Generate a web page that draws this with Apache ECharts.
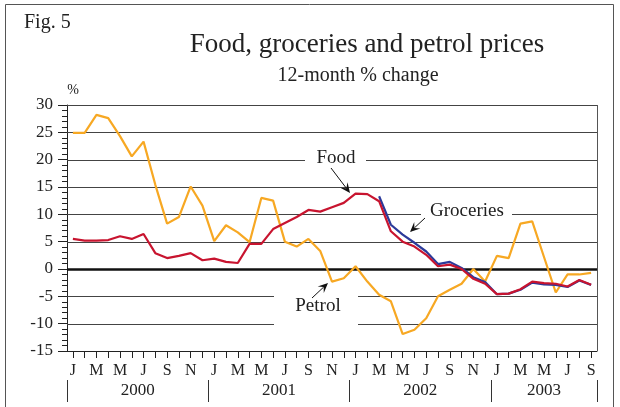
<!DOCTYPE html>
<html><head><meta charset="utf-8">
<script src="https://cdn.jsdelivr.net/npm/echarts@6/dist/echarts.min.js"></script>
<style>html,body{margin:0;padding:0;background:#fff}#c{width:620px;height:407px}</style>
</head><body><div id="c"></div>
<script>
// ---- data ----
const monthLetters = ['J','F','M','A','M','J','J','A','S','O','N','D'];
const years = ['2000','2001','2002','2003'];
const nMonths = 45; // Jan 2000 .. Sep 2003
const months = [];
for (let y = 0; y < years.length; y++) for (let m = 0; m < 12; m++) if (months.length < nMonths) months.push(monthLetters[m] + '-' + years[y]);
const petrol = [24.9, 24.9, 28.2, 27.6, 24.3, 20.6, 23.3, 15.4, 8.3, 9.5, 15.1, 11.6,
  5.1, 8.0, 6.7, 4.9, 13.0, 12.5, 5.0, 4.1, 5.5, 3.3, -2.3, -1.7,
  0.5, -2.3, -4.7, -5.9, -11.9, -11.1, -9.0, -5.0, -3.8, -2.7, 0.0, -2.3,
  2.4, 2.0, 8.3, 8.7, 2.2, -4.3, -1.0, -1.0, -0.7];
const food = [5.5, 5.2, 5.2, 5.3, 6.0, 5.5, 6.4, 2.9, 2.0, 2.4, 2.9, 1.6,
  1.9, 1.3, 1.1, 4.6, 4.6, 7.3, 8.4, 9.5, 10.8, 10.5, 11.3, 12.1,
  13.8, 13.7, 12.4, 6.9, 5.0, 4.1, 2.6, 0.5, 0.8, 0.0, -1.8, -2.7,
  -4.6, -4.5, -3.7, -2.3, -2.6, -2.7, -3.2, -2.0, -2.9];
const groceries = [null, null, null, null, null, null, null, null, null, null, null, null,
  null, null, null, null, null, null, null, null, null, null, null, null,
  null, null, 13.3, 8.1, 6.3, 4.8, 3.2, 0.9, 1.3, 0.2, -1.5, -2.4,
  -4.6, -4.5, -3.8, -2.5, -2.8, -2.9, -3.3, -2.1, -2.9];
const yTicks = [-15, -10, -5, 0, 5, 10, 15, 20, 25, 30];
const yearTicks = [0, 12, 24, 36, 45];
const yearLabelPos = [6, 18, 30, 40.5];

const FONT = '"Liberation Serif", "DejaVu Serif", serif';
const chart = echarts.init(document.getElementById('c'), null, {renderer: 'canvas'});

const option = {
  animation: false,
  backgroundColor: '#fff',
  grid: {left: 67, right: 23, top: 105, bottom: 56, containLabel: false},
  xAxis: [{
    type: 'category', data: months, boundaryGap: true,
    axisLine: {show: true, onZero: false, lineStyle: {color: '#222', width: 1}},
    axisTick: {show: true, alignWithLabel: true, interval: 0, length: 7, lineStyle: {color: '#222'}},
    axisLabel: {interval: 1, margin: 12, fontFamily: FONT, fontSize: 16, color: '#222',
      formatter: v => v.split('-')[0]},
    splitLine: {show: false}
  }, {
    type: 'value', min: 0, max: nMonths, position: 'bottom', offset: 29,
    axisLine: {show: false, onZero: false},
    axisTick: {show: true, customValues: yearTicks, length: 22, lineStyle: {color: '#333'}},
    axisLabel: {show: true, customValues: yearLabelPos, margin: 2, fontFamily: FONT, fontSize: 17, color: '#222',
      formatter: v => years[Math.floor(v / 12)]},
    splitLine: {show: false}
  }],
  yAxis: {
    type: 'value', min: yTicks[0], max: yTicks[yTicks.length - 1], interval: 5,
    axisLine: {show: true, onZero: false, lineStyle: {color: '#222', width: 1}},
    axisTick: {show: true, length: 9, lineStyle: {color: '#222'}},
    minorTick: {show: true, splitNumber: 5, length: 5, lineStyle: {color: '#222'}},
    axisLabel: {margin: 14, fontFamily: FONT, fontSize: 17, color: '#222'},
    splitLine: {show: false}
  },
  series: [
    {name: 'Petrol', type: 'line', data: petrol, symbol: 'none', z: 3,
      lineStyle: {color: '#F7A823', width: 2.2}},
    {name: 'Groceries', type: 'line', data: groceries, symbol: 'none', z: 4,
      lineStyle: {color: '#2B3A9A', width: 2.2}},
    {name: 'Food', type: 'line', data: food, symbol: 'none', z: 5,
      lineStyle: {color: '#C8142F', width: 2.2}}
  ]
};
chart.setOption(option);

// ---- annotations (gridlines with gaps, labels, arrows, frame) ----
const yPix = v => chart.convertToPixel({yAxisIndex: 0}, v);
const xL = chart.convertToPixel({xAxisIndex: 1}, 0);
const xR = chart.convertToPixel({xAxisIndex: 1}, nMonths);
const gaps = {20: [305, 366], 10: [421, 512], '-5': [274, 358], '-10': [274, 358]};
const g = [];
yTicks.forEach(v => {
  if (v === yTicks[0]) return;
  const y = Math.round(yPix(v)) + 0.5;
  const segs = gaps[v] ? [[xL, gaps[v][0]], [gaps[v][1], xR]] : [[xL, xR]];
  segs.forEach(s => g.push({type: 'line', z: 1, silent: true,
    shape: {x1: s[0], y1: y, x2: s[1], y2: y},
    style: {stroke: v === 0 ? '#111' : '#444', lineWidth: v === 0 ? 2.6 : 1}}));
});
// right border of plot
g.push({type: 'line', z: 1, shape: {x1: xR + 0.5, y1: yPix(30), x2: xR + 0.5, y2: yPix(-15)}, style: {stroke: '#555', lineWidth: 1}});
// outer frame
g.push({type: 'rect', z: 0, shape: {x: 5.5, y: 4.5, width: 608, height: 420}, style: {fill: null, stroke: '#555', lineWidth: 1}});

function txt(text, x, y, size, align) {
  g.push({type: 'text', z: 10, x: x, y: y, style: {text: text, font: size + 'px ' + FONT, fill: '#222', align: align || 'center', verticalAlign: 'middle'}});
}
txt('Fig. 5', 24, 23, 20, 'left');
txt('Food, groceries and petrol prices', 367, 45, 27);
txt('12-month % change', 358, 76, 20);
txt('%', 73, 90, 14);
txt('Food', 336, 158, 19);
txt('Groceries', 467, 211, 19);
txt('Petrol', 318, 306, 19);

function arrow(x1, y1, x2, y2) {
  const a = Math.atan2(y2 - y1, x2 - x1);
  const L = 10, W = 4.5, N = 6;
  const bx = x2 - L * Math.cos(a), by = y2 - L * Math.sin(a);
  const nx = x2 - N * Math.cos(a), ny = y2 - N * Math.sin(a);
  const px = -Math.sin(a) * W, py = Math.cos(a) * W;
  g.push({type: 'line', z: 10, shape: {x1: x1, y1: y1, x2: nx, y2: ny}, style: {stroke: '#111', lineWidth: 1}});
  g.push({type: 'polygon', z: 10, shape: {points: [[x2, y2], [bx + px, by + py], [nx, ny], [bx - px, by - py]]}, style: {fill: '#111'}});
}
arrow(331, 168, 350, 193);
arrow(425, 218, 410, 232);
arrow(312, 298, 328, 283);

chart.setOption({graphic: {elements: g}});
</script>
</body></html>
